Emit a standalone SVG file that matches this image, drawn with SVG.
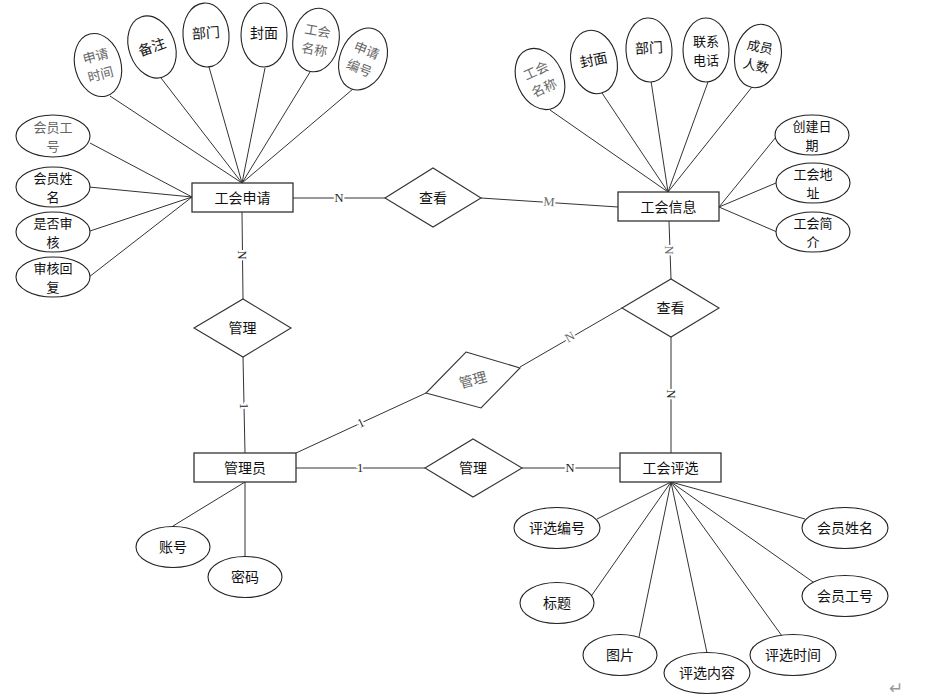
<svg xmlns="http://www.w3.org/2000/svg" width="933" height="699" viewBox="0 0 933 699">
<style>
text{font-family:"Noto Sans CJK SC","Liberation Sans",sans-serif;font-size:14px;fill:#111;text-anchor:middle}
text.two{font-size:13px}
.ent rect{fill:#fff;stroke:#333;stroke-width:1.3}
.att ellipse{fill:#fff;stroke:#222;stroke-width:1.1}
.rel polygon{fill:#fff;stroke:#333;stroke-width:1.1}
#connectors line{stroke:#333;stroke-width:1}
.lbl{font-family:"Liberation Serif",serif;font-size:12.5px;fill:#222;stroke:#fff;stroke-width:4px;paint-order:stroke;dominant-baseline:central}
.g{fill:#666}
</style>
<rect width="933" height="699" fill="#fff"/>
<g id="connectors">
<line x1="110" y1="96" x2="242" y2="183"/>
<line x1="161" y1="78" x2="242" y2="183"/>
<line x1="209" y1="67" x2="242" y2="183"/>
<line x1="265" y1="68" x2="242" y2="183"/>
<line x1="310" y1="72" x2="242" y2="183"/>
<line x1="353" y1="89" x2="242" y2="183"/>
<line x1="90" y1="143" x2="192" y2="197"/>
<line x1="89" y1="187" x2="192" y2="197"/>
<line x1="90" y1="231" x2="192" y2="197"/>
<line x1="89" y1="277" x2="192" y2="197"/>
<line x1="550" y1="110" x2="668" y2="192"/>
<line x1="602" y1="93" x2="668" y2="192"/>
<line x1="651" y1="81" x2="668" y2="192"/>
<line x1="708" y1="82" x2="668" y2="192"/>
<line x1="752" y1="87" x2="668" y2="192"/>
<line x1="776" y1="137" x2="719" y2="207"/>
<line x1="776" y1="183" x2="719" y2="207"/>
<line x1="777" y1="232" x2="719" y2="207"/>
<line x1="293" y1="198" x2="385" y2="198"/>
<line x1="481" y1="198" x2="618" y2="207"/>
<line x1="242" y1="212" x2="243" y2="299"/>
<line x1="243" y1="357" x2="245" y2="453"/>
<line x1="296" y1="453" x2="426" y2="393"/>
<line x1="520" y1="367" x2="622" y2="308"/>
<line x1="669" y1="221" x2="671" y2="279"/>
<line x1="671" y1="337" x2="671" y2="453"/>
<line x1="296" y1="468" x2="425" y2="468"/>
<line x1="522" y1="468" x2="620" y2="468"/>
<line x1="173" y1="526" x2="245" y2="482"/>
<line x1="245" y1="482" x2="245" y2="556"/>
<line x1="597" y1="519" x2="671" y2="482"/>
<line x1="805" y1="519" x2="671" y2="482"/>
<line x1="592" y1="595" x2="671" y2="482"/>
<line x1="813" y1="582" x2="671" y2="482"/>
<line x1="639" y1="637" x2="671" y2="482"/>
<line x1="707" y1="653" x2="671" y2="482"/>
<line x1="782" y1="636" x2="671" y2="482"/>
<text class="lbl" x="339" y="198">N</text>
<text class="lbl g" x="549" y="202" transform="rotate(4 549 202)">M</text>
<text class="lbl" x="242" y="255" transform="rotate(90 242 255)">N</text>
<text class="lbl" x="244" y="406" transform="rotate(90 244 406)">1</text>
<text class="lbl" x="361" y="423" transform="rotate(-25 361 423)">1</text>
<text class="lbl g" x="570" y="337" transform="rotate(-30 570 337)">N</text>
<text class="lbl g" x="669" y="250" transform="rotate(90 669 250)">N</text>
<text class="lbl" x="671" y="394" transform="rotate(90 671 394)">N</text>
<text class="lbl" x="360" y="468">1</text>
<text class="lbl" x="570" y="468">N</text>
</g>
<g id="e_gonghuishenqing" class="ent"><rect x="192" y="183" width="101" height="29"/><text x="242.5" y="202.5">工会申请</text></g>
<g id="e_gonghuixinxi" class="ent"><rect x="618" y="192" width="101" height="29"/><text x="668.5" y="211.5">工会信息</text></g>
<g id="e_guanliyuan" class="ent"><rect x="194" y="453" width="102" height="29"/><text x="245" y="472.5">管理员</text></g>
<g id="e_gonghuipingxuan" class="ent"><rect x="620" y="453" width="101" height="29"/><text x="670.5" y="472.5">工会评选</text></g>
<g id="r_chakan1" class="rel"><polygon points="385,198 433,168 481,198 433,227"/><text x="433" y="202.5">查看</text></g>
<g id="r_guanli1" class="rel"><polygon points="194,328 243,299 291,328 243,357"/><text x="242.5" y="332.5">管理</text></g>
<g id="r_guanli2" class="rel"><polygon points="466,352 520,368 481,408 426,393"/><text class="g" x="473" y="385" transform="rotate(-15 473 380)">管理</text></g>
<g id="r_chakan2" class="rel"><polygon points="622,308 671,279 719,308 671,337"/><text x="670.5" y="312.5">查看</text></g>
<g id="r_guanli3" class="rel"><polygon points="425,468 473,439 522,468 473,497"/><text x="473" y="472.5">管理</text></g>
<g id="a_sq_shijian" class="att" transform="translate(98 65) rotate(-15)"><ellipse rx="23" ry="32"/><text class="two g" y="-4.5">申请<tspan x="0" dy="19">时间</tspan></text></g>
<g id="a_sq_beizhu" class="att" transform="translate(152 47) rotate(-20)"><ellipse rx="23" ry="32"/><text y="5">备注</text></g>
<g id="a_sq_bumen" class="att" transform="translate(206 35) rotate(-4)"><ellipse rx="23" ry="32"/><text y="3">部门</text></g>
<g id="a_sq_fengmian" class="att" transform="translate(264 35)"><ellipse rx="23" ry="32"/><text y="3">封面</text></g>
<g id="a_sq_mingcheng" class="att" transform="translate(316 40) rotate(10)"><ellipse rx="23" ry="32"/><text class="two g" y="-4.5">工会<tspan x="0" dy="19">名称</tspan></text></g>
<g id="a_sq_bianhao" class="att" transform="translate(363 59) rotate(22)"><ellipse rx="23" ry="32"/><text class="two g" y="-4.5">申请<tspan x="0" dy="19">编号</tspan></text></g>
<g id="a_sq_gonghao" class="att"><ellipse cx="53" cy="136" rx="37" ry="21"/><text class="two g" x="53" y="131.5">会员工<tspan x="53" dy="19">号</tspan></text></g>
<g id="a_sq_xingming" class="att"><ellipse cx="53" cy="187" rx="37" ry="20"/><text class="two" x="53" y="182.5">会员姓<tspan x="53" dy="19">名</tspan></text></g>
<g id="a_sq_shenhe" class="att"><ellipse cx="53" cy="232" rx="37" ry="20"/><text class="two" x="53" y="227.5">是否审<tspan x="53" dy="19">核</tspan></text></g>
<g id="a_sq_huifu" class="att"><ellipse cx="53" cy="277" rx="37" ry="20"/><text class="two" x="53" y="272.5">审核回<tspan x="53" dy="19">复</tspan></text></g>
<g id="a_xx_mingcheng" class="att" transform="translate(540 79) rotate(-25)"><ellipse rx="23" ry="32"/><text class="two g" y="-4.5">工会<tspan x="0" dy="19">名称</tspan></text></g>
<g id="a_xx_fengmian" class="att" transform="translate(594 62) rotate(-12)"><ellipse rx="23" ry="32"/><text y="3">封面</text></g>
<g id="a_xx_bumen" class="att" transform="translate(649 50) rotate(-3)"><ellipse rx="23" ry="32"/><text y="3">部门</text></g>
<g id="a_xx_dianhua" class="att" transform="translate(706 50)"><ellipse rx="23" ry="32"/><text class="two" y="-4.5">联系<tspan x="0" dy="19">电话</tspan></text></g>
<g id="a_xx_renshu" class="att" transform="translate(758 56) rotate(12)"><ellipse rx="23" ry="32"/><text class="two" y="-4.5">成员<tspan x="0" dy="19">人数</tspan></text></g>
<g id="a_xx_riqi" class="att"><ellipse cx="812" cy="135" rx="37" ry="20"/><text class="two" x="812" y="130.5">创建日<tspan x="812" dy="19">期</tspan></text></g>
<g id="a_xx_dizhi" class="att"><ellipse cx="813" cy="183" rx="37" ry="20"/><text class="two" x="813" y="178.5">工会地<tspan x="813" dy="19">址</tspan></text></g>
<g id="a_xx_jianjie" class="att"><ellipse cx="813" cy="232" rx="37" ry="20"/><text class="two" x="813" y="227.5">工会简<tspan x="813" dy="19">介</tspan></text></g>
<g id="a_gl_zhanghao" class="att"><ellipse cx="173" cy="547" rx="37" ry="20.5"/><text x="173" y="552">账号</text></g>
<g id="a_gl_mima" class="att"><ellipse cx="245" cy="577" rx="37" ry="20.5"/><text x="245" y="582">密码</text></g>
<g id="a_px_bianhao" class="att"><ellipse cx="557" cy="528" rx="43" ry="20.5"/><text x="557" y="533">评选编号</text></g>
<g id="a_px_xingming" class="att"><ellipse cx="845" cy="528" rx="43" ry="20.5"/><text x="845" y="533">会员姓名</text></g>
<g id="a_px_biaoti" class="att"><ellipse cx="557" cy="603" rx="37" ry="20.5"/><text x="557" y="608">标题</text></g>
<g id="a_px_gonghao" class="att"><ellipse cx="845" cy="596" rx="43" ry="20.5"/><text x="845" y="601">会员工号</text></g>
<g id="a_px_tupian" class="att"><ellipse cx="620" cy="655" rx="37" ry="20.5"/><text x="620" y="660">图片</text></g>
<g id="a_px_neirong" class="att"><ellipse cx="707" cy="673" rx="43" ry="20.5"/><text x="707" y="678">评选内容</text></g>
<g id="a_px_shijian" class="att"><ellipse cx="793" cy="655" rx="43" ry="20.5"/><text x="793" y="660">评选时间</text></g>
<text x="896" y="694" style="font-family:'DejaVu Sans',sans-serif;font-size:17px;fill:#999">↵</text>
</svg>
